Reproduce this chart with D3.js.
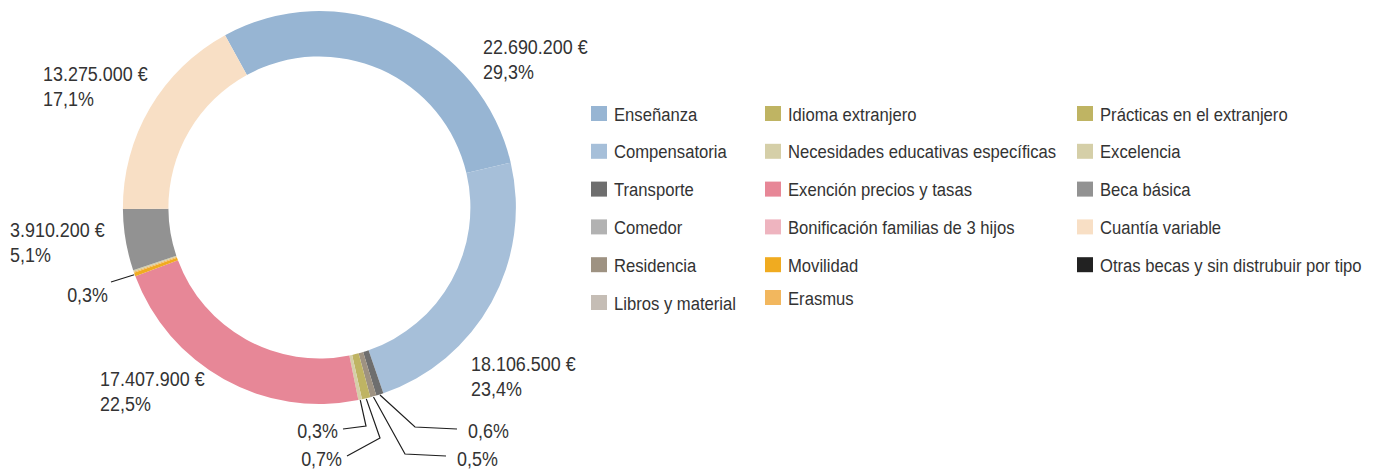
<!DOCTYPE html>
<html lang="es">
<head>
<meta charset="utf-8">
<title>Becas por tipo</title>
<script src="https://cdn.jsdelivr.net/npm/d3@7/dist/d3.min.js"></script>
<style>
  html, body { margin: 0; padding: 0; background: #ffffff; }
  svg { display: block; }
  text { font-family: "Liberation Sans", Arial, sans-serif; fill: #333333; }
</style>
</head>
<body>
<svg id="chart" width="1386" height="470"></svg>
<script>
// Categories of grants (legend order = drawing order, clockwise)
const categories = [
  "Enseñanza", "Compensatoria", "Transporte", "Comedor", "Residencia", "Libros y material",
  "Idioma extranjero", "Necesidades educativas específicas", "Exención precios y tasas",
  "Bonificación familias de 3 hijos", "Movilidad", "Erasmus",
  "Prácticas en el extranjero", "Excelencia", "Beca básica", "Cuantía variable",
  "Otras becas y sin distrubuir por tipo"
];

// Amounts in euros
const amounts = [
  22690200, 18106500, 465000, 0, 387000, 0,
  542000, 232000, 17407900,
  0, 232000, 72000,
  0, 100000, 3910200, 13275000,
  0
];

const colors = [
  "#97b5d3", "#a6bfd9", "#6e6e6e", "#b2b2b2", "#9e9282", "#c5bdb5",
  "#bfb463", "#d5cfa8", "#e78797",
  "#eeb4bf", "#f0ab20", "#f2b75e",
  "#bfb463", "#d5cfa8", "#929292", "#f8dfc5",
  "#222222"
];

// Slices that carry an amount + percentage label
const amountLabelled = ["Enseñanza", "Compensatoria", "Exención precios y tasas", "Cuantía variable", "Beca básica"];
// Slices that carry only a percentage label with a leader line
const percentLabelled = ["Transporte", "Residencia", "Idioma extranjero", "Necesidades educativas específicas", "Movilidad"];

// ---- layout ----
const cx = 319.4, cy = 207.5;
const outerR = 196.5, innerR = 151;
const startDeg = -28.7;

const svg = d3.select("#chart");
const data = categories.map((name, i) => ({ name, value: amounts[i], color: colors[i] }));
const total = d3.sum(data, d => d.value);

const es = d3.formatLocale({ decimal: ",", thousands: ".", grouping: [3], currency: ["", " €"] });
const fmtEuro = es.format("$,.0f");
const fmtPct = es.format(".1f");
const pct = d => fmtPct(d.value / total * 100) + "%";

const pie = d3.pie()
  .sort(null)
  .value(d => d.value)
  .startAngle(startDeg * Math.PI / 180)
  .endAngle(startDeg * Math.PI / 180 + 2 * Math.PI);

const arcs = pie(data);
const arc = d3.arc().innerRadius(innerR).outerRadius(outerR);

const ring = svg.append("g").attr("transform", `translate(${cx},${cy})`);
ring.selectAll("path")
  .data(arcs.filter(a => a.data.value > 0))
  .join("path")
  .attr("d", arc)
  .attr("fill", a => a.data.color);

// point on the outer rim at the slice's mid-angle (page coordinates)
function rimPoint(a, r) {
  const m = (a.startAngle + a.endAngle) / 2;
  return [cx + r * Math.sin(m), cy - r * Math.cos(m)];
}
const byName = new Map(arcs.map(a => [a.data.name, a]));

// condensed text: a horizontally squeezed group anchored at (x, y)
function condensedText(parent, x, y, lines, size, squeeze, anchor = "start", gap = 25) {
  const g = parent.append("g").attr("transform", `translate(${x},${y}) scale(${squeeze},1)`);
  const t = g.append("text").attr("text-anchor", anchor).style("font-size", size + "px");
  lines.forEach((s, i) => t.append("tspan").attr("x", 0).attr("dy", i ? gap : 0).text(s));
  return g;
}

// amount + percentage labels
const amountPos = {
  "Enseñanza": { x: 483, y: 54 },
  "Compensatoria": { x: 471, y: 371 },
  "Exención precios y tasas": { x: 100, y: 386 },
  "Cuantía variable": { x: 43, y: 81 },
  "Beca básica": { x: 10, y: 237 }
};
const labelSize = 19.5, labelSqueeze = 0.92;

const big = svg.append("g");
amountLabelled.forEach(name => {
  const a = byName.get(name), p = amountPos[name];
  condensedText(big, p.x, p.y, [fmtEuro(a.data.value), pct(a.data)], labelSize, labelSqueeze);
});

// small-slice percentage labels with elbow leaders
const leaderPos = {
  "Transporte": { elbow: [415, 427], end: [457, 429], tx: 468, ty: 438, anchor: "start" },
  "Residencia": { elbow: [405, 454], end: [446, 456], tx: 457, ty: 466, anchor: "start" },
  "Idioma extranjero": { elbow: [380, 438], end: [347, 456], tx: 342, ty: 466, anchor: "end" },
  "Necesidades educativas específicas": { elbow: [366, 426], end: [343, 429], tx: 338, ty: 438, anchor: "end" },
  "Movilidad": { elbow: null, end: [111, 282], tx: 108, ty: 302, anchor: "end" }
};

const leaders = svg.append("g");
percentLabelled.forEach(name => {
  const a = byName.get(name), p = leaderPos[name];
  const pts = [rimPoint(a, outerR + 0.5)];
  if (p.elbow) pts.push(p.elbow);
  pts.push(p.end);
  leaders.append("path")
    .attr("d", d3.line()(pts))
    .attr("fill", "none")
    .attr("stroke", "#1e1e1e")
    .attr("stroke-width", 1.2);
  condensedText(leaders, p.tx, p.ty, [pct(a.data)], labelSize, labelSqueeze, p.anchor);
});

// legend: three columns
const legendCols = [591, 765, 1077];
const perCol = [6, 6, 5];
const rowTop = 106, rowStep = 37.8;
const sw = 16, sh = 15;

const legend = svg.append("g");
let k = 0;
perCol.forEach((n, c) => {
  for (let r = 0; r < n; r++, k++) {
    const d = data[k];
    // last entry of the middle column sits a little higher
    const y = rowTop + r * rowStep - (c === 1 && r === 5 ? 5 : 0);
    legend.append("rect")
      .attr("x", legendCols[c]).attr("y", y)
      .attr("width", sw).attr("height", sh)
      .attr("fill", d.color);
    condensedText(legend, legendCols[c] + 23, y + 14.5, [d.name], 18.5, 0.9);
  }
});
</script>
</body>
</html>
